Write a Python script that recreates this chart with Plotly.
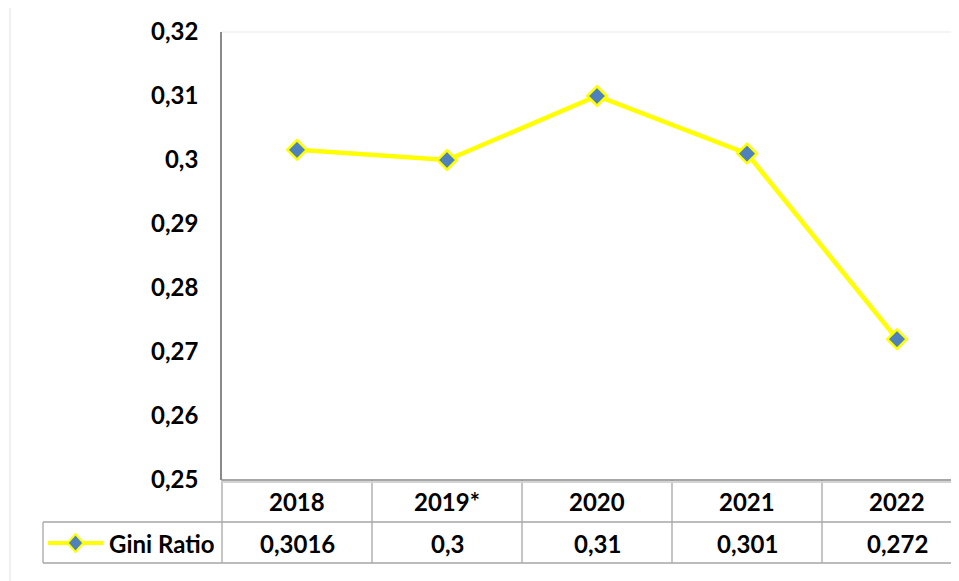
import plotly.graph_objects as go

# === data
years = ["2018", "2019*", "2020", "2021", "2022"]
gini = [0.3016, 0.3, 0.31, 0.301, 0.272]
series_name = "Gini Ratio"
y_ticks = [0.25, 0.26, 0.27, 0.28, 0.29, 0.30, 0.31, 0.32]
y_tick_text = ["0,25", "0,26", "0,27", "0,28", "0,29", "0,3", "0,31", "0,32"]

# page is 959x581 but the html body has an 8px margin, so work in page pixels
OFF = 8
W, H = 959 - OFF, 581 - OFF
L, T, B = 222 - OFF, 32 - OFF, 101
PW, PH = W - L, H - T - B

FONT = "Lato, 'Open Sans', sans-serif"
GRID = "#a6a6a6"
YELLOW = "#FFFF00"
BLUE = "#4F81BD"
TXT = dict(family=FONT, size=24, color="#000000", weight="bold")


def px_x(p):  # page pixel -> paper x
    return (p - OFF - L) / PW


def px_y(p):  # page pixel -> paper y
    return (OFF + T + PH - p) / PH


def fmt(v):
    return str(v).replace(".", ",")


xs = list(range(len(years)))

fig = go.Figure()
fig.add_trace(go.Scatter(
    x=xs, y=gini, mode="lines+markers", name=series_name,
    line=dict(color=YELLOW, width=4.5),
    marker=dict(symbol="diamond", size=15, color=BLUE,
                line=dict(color=YELLOW, width=2.5)),
    cliponaxis=False, showlegend=False,
))

shapes = []
# faint outer chart border + plot area top edge
shapes.append(dict(type="rect", xref="paper", yref="paper",
                   x0=px_x(10), x1=px_x(1000), y0=px_y(2), y1=px_y(640),
                   line=dict(color="#ececec", width=1.5), layer="below"))
shapes.append(dict(type="line", xref="paper", yref="paper",
                   x0=0, x1=1, y0=1, y1=1,
                   line=dict(color="#f0f0f0", width=1.5)))

# table grid
y_hdr = px_y(522)
y_bot = px_y(563)
for i in range(len(years)):
    shapes.append(dict(type="line", xref="x", yref="paper",
                       x0=i + 0.5, x1=i + 0.5, y0=0, y1=y_bot,
                       line=dict(color=GRID, width=1.3)))
shapes.append(dict(type="line", xref="paper", yref="paper",
                   x0=0, x1=0, y0=0, y1=y_bot,
                   line=dict(color=GRID, width=1.3)))
shapes.append(dict(type="line", xref="paper", yref="paper",
                   x0=px_x(43), x1=px_x(43), y0=y_hdr, y1=y_bot,
                   line=dict(color=GRID, width=1.3)))
for yy in (y_hdr, y_bot):
    shapes.append(dict(type="line", xref="paper", yref="paper",
                       x0=px_x(43), x1=1.02, y0=yy, y1=yy,
                       line=dict(color=GRID, width=1.3)))
# x axis line with soft shadow
shapes.append(dict(type="line", xref="paper", yref="paper",
                   x0=0, x1=1, y0=px_y(482), y1=px_y(482),
                   line=dict(color="#d4d4d4", width=2)))
shapes.append(dict(type="line", xref="paper", yref="paper",
                   x0=0, x1=1, y0=0, y1=0,
                   line=dict(color="#8a8a8a", width=1.6)))

# legend key inside the table
ly = px_y(543)
shapes.append(dict(type="line", xref="paper", yref="paper",
                   x0=px_x(48), x1=px_x(103), y0=ly, y1=ly,
                   line=dict(color=YELLOW, width=4)))
cx, dx, dy = px_x(75.5), 8 / PW, 9 / PH
shapes.append(dict(type="path", xref="paper", yref="paper",
                   path=f"M{cx - dx},{ly} L{cx},{ly + dy} L{cx + dx},{ly} L{cx},{ly - dy} Z",
                   fillcolor=BLUE, line=dict(color=YELLOW, width=2)))

annotations = []
for i, (yr, v) in enumerate(zip(years, gini)):
    annotations.append(dict(x=i, y=px_y(501), xref="x", yref="paper", text=yr,
                            showarrow=False, xanchor="center", yanchor="middle", font=TXT))
    annotations.append(dict(x=i, y=ly, xref="x", yref="paper", text=fmt(v),
                            showarrow=False, xanchor="center", yanchor="middle", font=TXT))
annotations.append(dict(x=px_x(216), y=ly, xref="paper", yref="paper", text=series_name,
                        showarrow=False, xanchor="right", yanchor="middle", font=TXT))

fig.update_layout(
    width=W, height=H,
    margin=dict(l=L, r=0, t=T, b=B),
    paper_bgcolor="white", plot_bgcolor="white",
    shapes=shapes, annotations=annotations,
    showlegend=False,
)
fig.update_xaxes(range=[-0.5, PW / 150 - 0.5], showticklabels=False,
                 showgrid=False, zeroline=False, showline=False, ticks="")
fig.update_yaxes(range=[0.25, 0.32], tickvals=y_ticks, ticktext=y_tick_text,
                 showgrid=False, zeroline=False, showline=True,
                 linecolor="#8a8a8a", linewidth=1.6, ticks="",
                 ticklabelstandoff=17, tickfont=TXT)

fig.write_html("out.html")
